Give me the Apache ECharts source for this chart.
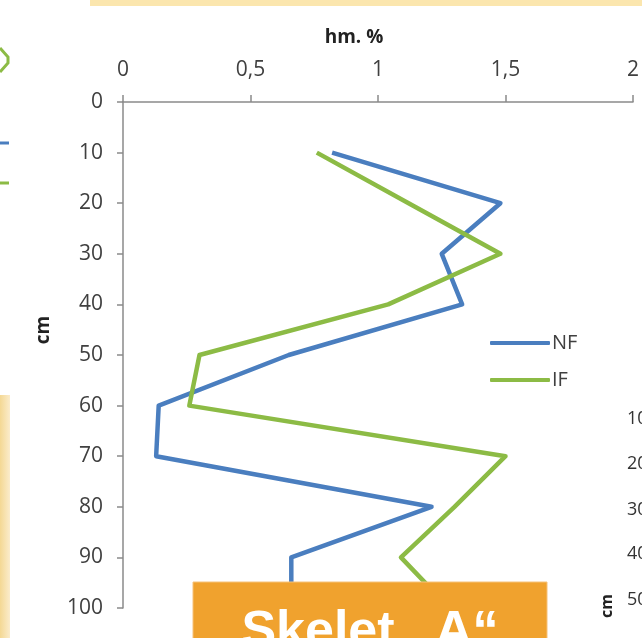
<!DOCTYPE html>
<html>
<head>
<meta charset="utf-8">
<script src="https://cdn.jsdelivr.net/npm/echarts@6/dist/echarts.min.js"></script>
<style>
html,body{margin:0;padding:0;background:#fff;}
#chart{width:642px;height:638px;}
</style>
</head>
<body>
<div id="chart"></div>
<script>
var depths = [10, 20, 30, 40, 50, 60, 70, 80, 90, 100];
var nfValues = [0.82, 1.48, 1.25, 1.33, 0.65, 0.14, 0.13, 1.21, 0.66, 0.66];
var ifValues = [0.76, 1.12, 1.48, 1.04, 0.30, 0.26, 1.50, 1.30, 1.09, 1.28];
var xTicks = [0, 0.5, 1, 1.5, 2];
var seriesNames = ['NF', 'IF'];
var xAxisTitle = 'hm. %';
var yAxisTitle = 'cm';
var bannerText = 'Skelet \u201EA\u201C';
var sideLabels = ['10', '20', '30', '40', '50'];

var chart = echarts.init(document.getElementById('chart'), null, {renderer: 'canvas'});

function pairs(vals) { return depths.map(function (d, i) { return [vals[i], d]; }); }

var font = '"Open Sans", "Noto Sans", sans-serif';
var sideY = [419, 464, 510, 554, 600];

var graphics = [
  {type: 'rect', shape: {x: 90, y: 0, width: 552, height: 6}, style: {fill: '#fbe6ae'}, z: 100},
  {type: 'rect', shape: {x: 0, y: 395, width: 10, height: 243},
   style: {fill: new echarts.graphic.LinearGradient(0, 0, 1, 0, [{offset: 0, color: '#f4d894'}, {offset: 1, color: '#fbeccb'}])}, z: 100},
  {type: 'polyline', shape: {points: [[0, 48], [8, 57], [8, 63], [0, 72]]}, style: {stroke: '#8cbb45', lineWidth: 3, fill: null}, z: 100},
  {type: 'line', shape: {x1: 0, y1: 143, x2: 9, y2: 143}, style: {stroke: '#4a7ebf', lineWidth: 3}, z: 100},
  {type: 'line', shape: {x1: 0, y1: 183, x2: 9, y2: 183}, style: {stroke: '#8cbb45', lineWidth: 3}, z: 100},
  {type: 'rect', shape: {x: 193, y: 582, width: 354, height: 60}, style: {fill: '#f0a22e', stroke: '#f6c27a', lineWidth: 1}, z: 100},
  {type: 'text', x: 370, y: 633, z: 101,
   style: {text: bannerText, fill: '#ffffff', font: 'bold 52px "Liberation Sans", Arial, sans-serif', textAlign: 'center', textVerticalAlign: 'middle'}},
  {type: 'text', x: 607, y: 606, rotation: Math.PI / 2, z: 100,
   style: {text: yAxisTitle, fill: '#222', font: 'bold 16px ' + font, textAlign: 'center', textVerticalAlign: 'middle'}}
];
sideLabels.forEach(function (t, i) {
  graphics.push({type: 'text', x: 627, y: sideY[i], z: 100,
    style: {text: t, fill: '#333', font: '18px ' + font, textAlign: 'left', textVerticalAlign: 'middle'}});
});

chart.setOption({
  animation: false,
  backgroundColor: '#ffffff',
  grid: {left: 123, right: 7, top: 102, bottom: 30, containLabel: false},
  legend: {
    data: seriesNames,
    orient: 'vertical',
    left: 485,
    top: 328,
    itemWidth: 60,
    itemHeight: 4,
    itemGap: 17,
    icon: 'roundRect',
    textStyle: {fontFamily: font, fontSize: 20, color: '#404040', padding: [0, 0, 0, -3]}
  },
  xAxis: {
    type: 'value',
    position: 'top',
    min: xTicks[0],
    max: xTicks[xTicks.length - 1],
    interval: 0.5,
    name: xAxisTitle,
    nameLocation: 'middle',
    nameGap: 55,
    nameTextStyle: {fontFamily: font, fontSize: 19, fontWeight: 'bold', color: '#222', padding: [0, 48, 0, 0]},
    axisLine: {show: true, lineStyle: {color: '#8a8a8a', width: 1.5}},
    axisTick: {show: true, length: 7, lineStyle: {color: '#8a8a8a', width: 1.5}},
    splitLine: {show: false},
    axisLabel: {margin: 21, fontFamily: font, fontSize: 21, color: '#404040',
      formatter: function (v) { return String(v).replace('.', ','); }}
  },
  yAxis: {
    type: 'value',
    inverse: true,
    min: 0,
    max: 100,
    interval: 10,
    name: yAxisTitle,
    nameLocation: 'middle',
    nameGap: 70,
    nameTextStyle: {fontFamily: font, fontSize: 19, fontWeight: 'bold', color: '#222', padding: [0, 0, 0, 50]},
    axisLine: {show: true, lineStyle: {color: '#8a8a8a', width: 1.5}},
    axisTick: {show: true, length: 6, lineStyle: {color: '#8a8a8a', width: 1.5}},
    splitLine: {show: false},
    axisLabel: {margin: 20, fontFamily: font, fontSize: 21, color: '#404040'}
  },
  series: [
    {name: seriesNames[0], type: 'line', data: pairs(nfValues), showSymbol: false, symbol: 'none',
     lineStyle: {color: '#4a7ebf', width: 4.5, join: 'round'}, itemStyle: {color: '#4a7ebf'}},
    {name: seriesNames[1], type: 'line', data: pairs(ifValues), showSymbol: false, symbol: 'none',
     lineStyle: {color: '#8cbb45', width: 4.5, join: 'round'}, itemStyle: {color: '#8cbb45'}}
  ],
  graphic: graphics
});
</script>
</body>
</html>
